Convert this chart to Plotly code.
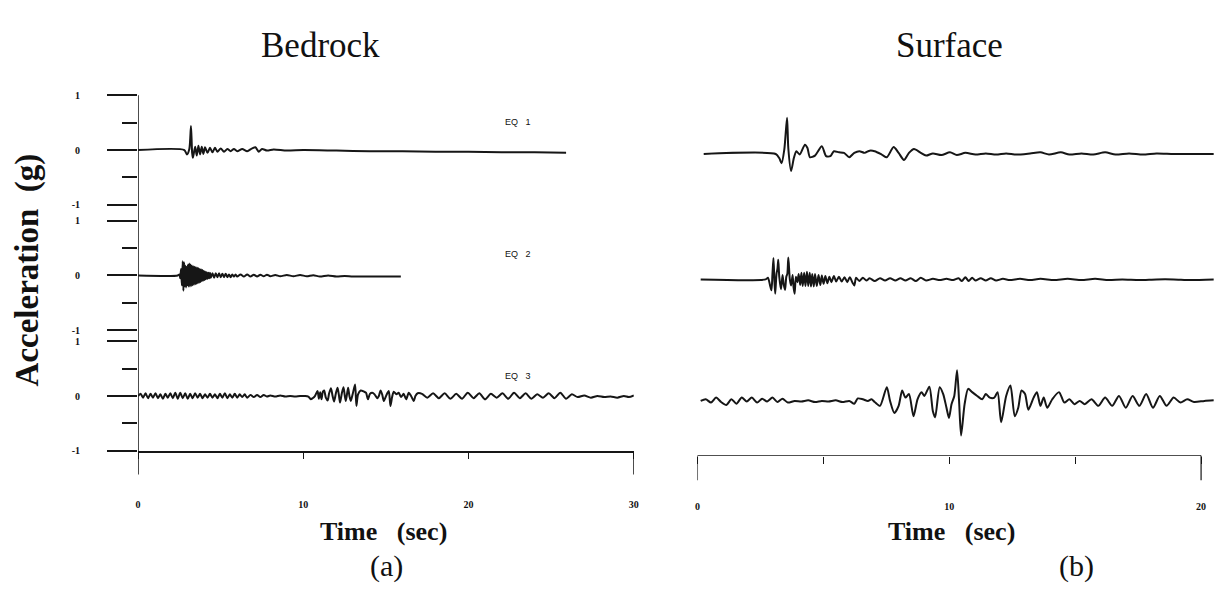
import plotly.graph_objects as go

W, H = 1219, 598

# ---------------- data (time in s, acceleration in g) ----------------
bed_eq1_t = [0, 2.8, 2.95, 3.1, 3.2, 3.27, 3.32, 3.45, 3.55, 3.65, 3.75, 3.85, 3.95, 4.05, 4.2, 4.35,
             4.5, 4.65, 4.8, 5.0, 5.2, 5.4, 5.6, 5.8, 6.0, 6.3, 6.6, 6.9, 7.1, 7.3, 7.5, 7.8, 8.2, 9,
             10, 12, 14, 16, 18, 20, 22, 24, 25.9]
bed_eq1_a = [0, 0, -0.08, 0.02, 0.44, -0.05, -0.14, 0.06, -0.10, 0.08, -0.08, 0.06, -0.07, 0.05, -0.05,
             0.04, -0.04, 0.04, -0.03, 0.03, -0.03, 0.02, -0.02, 0.02, -0.02, 0.02, -0.02, 0.03, 0.05,
             -0.03, 0.02, -0.01, 0.01, -0.01, 0.0, -0.01, -0.02, -0.02, -0.03, -0.03, -0.04, -0.04, -0.05]

bed_eq2_t = [0, 2.4, 2.5, 2.55, 2.6, 2.65, 2.7, 2.74, 2.78, 2.82, 2.86, 2.9, 2.94, 2.98, 3.02, 3.06,
             3.1, 3.14, 3.18, 3.22, 3.26, 3.3, 3.34, 3.38, 3.42, 3.46, 3.5, 3.54, 3.58, 3.62, 3.66,
             3.7, 3.74, 3.78, 3.82, 3.86, 3.9, 3.94, 3.98, 4.02, 4.06, 4.1, 4.15, 4.2, 4.25, 4.3,
             4.35, 4.4, 4.5, 4.6, 4.7, 4.8, 4.9, 5.0, 5.1, 5.2, 5.3, 5.4, 5.5, 5.6, 5.7, 5.8, 5.9,
             6.0, 6.2, 6.4, 6.6, 6.8, 7.0, 7.2, 7.4, 7.6, 7.8, 8.0, 8.3, 8.6, 9.0, 9.4, 9.8, 10.2,
             10.6, 11.0, 11.5, 12.0, 12.5, 13.0, 14.0, 15.0, 15.9]
bed_eq2_a = [0, 0, 0.02, -0.05, 0.12, -0.18, 0.26, -0.28, 0.24, -0.2, 0.18, -0.22, 0.16, -0.18, 0.2,
             -0.2, 0.22, -0.2, 0.2, -0.19, 0.18, -0.18, 0.17, -0.17, 0.16, -0.16, 0.15, -0.15, 0.14,
             -0.14, 0.13, -0.13, 0.12, -0.12, 0.11, -0.1, 0.1, -0.09, 0.08, -0.08, 0.07, -0.07,
             0.06, -0.06, 0.05, -0.05, 0.05, -0.04, 0.04, -0.04, 0.04, -0.03, 0.04, -0.03, 0.03,
             -0.03, 0.03, -0.03, 0.02, -0.03, 0.02, -0.02, 0.02, -0.02, 0.02, -0.02, 0.02, -0.02,
             0.015, -0.02, 0.015, -0.015, 0.015, -0.015, 0.01, -0.015, 0.01, -0.015, 0.01, -0.015,
             0.005, -0.02, 0.0, -0.02, -0.01, -0.02, -0.02, -0.02, -0.02]

bed_eq3_t = [0, 0.15, 0.3, 0.45, 0.6, 0.75, 0.9, 1.05, 1.2, 1.35, 1.5, 1.65, 1.8, 1.95, 2.1, 2.25,
             2.4, 2.55, 2.7, 2.85, 3.0, 3.15, 3.3, 3.45, 3.6, 3.75, 3.9, 4.05, 4.2, 4.35, 4.5, 4.65,
             4.8, 4.95, 5.1, 5.25, 5.4, 5.55, 5.7, 5.85, 6.0, 6.15, 6.3, 6.45, 6.6, 6.8, 7.0, 7.2,
             7.4, 7.6, 7.8, 8.0, 8.3, 8.6, 8.9, 9.2, 9.5, 9.8, 10.1, 10.3, 10.45,
             10.56, 10.70, 10.86, 10.94, 11.02, 11.10, 11.18, 11.26, 11.36, 11.47, 11.56, 11.67,
             11.77, 11.86, 11.97, 12.07, 12.15, 12.22, 12.33, 12.43, 12.51, 12.57, 12.65, 12.71,
             12.79, 12.87, 12.99, 13.13, 13.21, 13.31, 13.47, 13.67, 13.79, 13.91, 14.03, 14.17,
             14.31, 14.47, 14.57, 14.67, 14.77, 14.87, 15.03, 15.17, 15.27, 15.37, 15.47, 15.63,
             15.77, 15.91, 16.07, 16.22, 16.38, 16.52, 16.68, 16.78, 16.92, 17.18,
             17.5, 17.85, 18.2, 18.55, 18.9, 19.25, 19.6, 19.95, 20.3, 20.65, 21.0, 21.35, 21.7,
             22.05, 22.4, 22.75, 23.1, 23.45, 23.8, 24.15, 24.5, 24.85, 25.2, 25.55, 25.9, 26.25,
             26.6, 27.0, 27.4, 27.8, 28.2, 28.6, 29.0, 29.4, 29.7, 30.0]
bed_eq3_a = [0, 0.04, -0.03, 0.05, -0.04, 0.04, -0.03, 0.05, -0.04, 0.03, -0.05, 0.04, -0.03, 0.05,
             -0.04, 0.06, -0.05, 0.06, -0.04, 0.05, -0.05, 0.04, -0.04, 0.05, -0.03, 0.04, -0.04,
             0.03, -0.03, 0.04, -0.03, 0.03, -0.04, 0.04, -0.03, 0.05, -0.04, 0.03, -0.03, 0.04,
             -0.03, 0.03, -0.02, 0.03, -0.03, 0.02, -0.02, 0.02, -0.02, 0.02, -0.01, 0.01, -0.01,
             0.01, -0.01, 0.0, -0.01, 0.0, 0.0, -0.01, -0.06,
             -0.04, 0.0, 0.09, -0.05, 0.07, -0.06, 0.08, 0.1, -0.03, -0.08, 0.05, 0.14,
             0.0, -0.1, 0.05, 0.15, 0.02, -0.12, 0.05, 0.16, 0.0, -0.09, 0.05, 0.15,
             0.0, -0.09, 0.04, 0.21, -0.18, 0.03, 0.1, 0.08, 0.06, -0.06, 0.04, 0.06,
             0.03, -0.04, 0.0, 0.1, 0.03, -0.09, 0.02, 0.09, -0.18, -0.02, 0.08, 0.03,
             0.06, -0.02, 0.04, -0.06, 0.06, 0.0, -0.09, 0.0, 0.05, 0.04,
             -0.03, 0.05, -0.04, 0.05, -0.05, 0.04, -0.05, 0.06, -0.04, 0.05, -0.06, 0.04, -0.03,
             0.05, -0.05, 0.06, -0.04, 0.05, -0.05, 0.03, -0.03, 0.05, -0.04, 0.06, -0.05, 0.03,
             -0.02, 0.01, -0.03, 0.0, -0.02, -0.01, -0.03, 0.0, -0.02, 0.01]

sur_eq1_t = [0.25, 3.11, 3.25, 3.34, 3.45, 3.56, 3.61, 3.72, 3.83, 3.93, 4.06, 4.27, 4.37, 4.47, 4.67,
             4.94, 5.11, 5.28, 5.42, 5.62, 5.82, 6.03, 6.23, 6.43, 6.64, 6.84, 7.04, 7.32, 7.52,
             7.79, 7.99, 8.2, 8.4, 8.6, 8.87, 9.08, 9.35, 9.69, 10.03, 10.3, 10.64, 11.04, 11.45,
             11.86, 12.26, 12.67, 13.21, 13.62, 13.96, 14.43, 14.77, 15.25, 15.72, 16.19, 16.6,
             17.14, 17.69, 18.23, 18.91, 19.58, 20.5]
sur_eq1_a = [0, 0, -0.075, -0.17, 0.08, 0.66, 0.1, -0.31, -0.075, 0.05, -0.01, 0.17, 0.11, -0.06,
             -0.03, 0.14, -0.04, -0.04, 0.05, 0.03, 0.02, -0.06, 0.02, 0.05, 0.02, 0.06, 0.05,
             -0.01, -0.06, 0.125, 0.02, -0.11, 0.02, 0.09, 0.02, -0.03, 0.01, -0.02, 0.03, -0.02,
             0.02, -0.01, 0.01, -0.01, 0.01, -0.01, 0.01, 0.03, -0.01, 0.03, -0.01, 0.01, -0.01,
             0.03, -0.01, 0.01, -0.01, 0.01, 0.0, 0.0, 0.0]

sur_eq2_t = [0.13, 2.71, 2.80, 2.88, 2.94, 2.98, 3.02, 3.06, 3.09, 3.14, 3.18, 3.21, 3.25, 3.32,
             3.38, 3.43, 3.48, 3.53, 3.57, 3.61, 3.67, 3.72, 3.78, 3.82, 3.86, 3.91, 3.97, 4.02,
             4.08, 4.13, 4.18, 4.24, 4.29, 4.35, 4.40, 4.46, 4.51, 4.56, 4.62, 4.67, 4.74, 4.81,
             4.88, 4.94, 5.01, 5.08, 5.16, 5.24, 5.32, 5.42, 5.51, 5.62, 5.73, 5.84, 5.95, 6.05,
             6.16, 6.23, 6.30, 6.43, 6.57, 6.71, 6.84, 7.04, 7.25, 7.45, 7.65, 7.86, 8.06, 8.26,
             8.47, 8.67, 8.87, 9.08, 9.35, 9.62, 9.89, 10.16, 10.37, 10.5, 10.64, 10.77, 10.91,
             11.04, 11.25, 11.45, 11.65, 11.86, 12.13, 12.4, 12.81, 13.21, 13.62, 14.16, 14.7,
             15.25, 15.79, 16.33, 16.87, 17.55, 18.23, 18.91, 19.58, 20.5]
sur_eq2_a = [0, 0, 0.03, -0.1, -0.2, 0.1, 0.39, -0.05, -0.26, 0.1, 0.2, 0.36, 0.05, -0.18, 0.08,
             -0.1, -0.19, 0.05, 0.1, 0.4, 0.0, -0.11, 0.08, -0.15, -0.26, 0.05, -0.05, 0.1, -0.1,
             0.12, -0.12, 0.12, -0.12, 0.14, -0.12, 0.12, -0.13, 0.1, -0.13, 0.1, -0.12, 0.08,
             -0.1, 0.07, -0.08, 0.06, -0.07, 0.05, -0.05, 0.06, -0.04, 0.05, -0.04, 0.04, -0.05,
             0.04, -0.06, -0.11, 0.03, -0.03, 0.03, -0.02, 0.02, -0.03, 0.02, -0.02, 0.02, -0.02,
             0.02, -0.02, 0.02, -0.03, 0.03, -0.02, 0.01, -0.01, 0.01, -0.01, 0.02, -0.03, 0.04,
             -0.03, 0.03, -0.02, 0.02, -0.02, 0.02, -0.02, 0.01, -0.01, 0.01, -0.01, 0.01, -0.01,
             0.01, -0.01, 0.01, -0.01, 0.0, -0.01, 0.0, 0.0, -0.01, 0.0]

sur_eq3_t = [0.13, 0.33, 0.54, 0.74, 0.94, 1.15, 1.35, 1.55, 1.76, 1.96, 2.16, 2.37, 2.57, 2.77,
             2.98, 3.18, 3.38, 3.59, 3.86, 4.13, 4.40, 4.67, 4.94, 5.21, 5.49, 5.76, 6.03, 6.23,
             6.37, 6.57, 6.77, 6.91, 7.04, 7.25, 7.52, 7.65, 7.82, 7.99, 8.13, 8.26, 8.40, 8.58,
             8.74, 8.90, 9.01, 9.21, 9.35, 9.44, 9.62, 9.76, 9.89, 9.99, 10.09, 10.20, 10.31,
             10.39, 10.47, 10.61, 10.75, 10.91, 11.11, 11.31, 11.45, 11.61, 11.79, 11.92, 12.06,
             12.26, 12.43, 12.60, 12.74, 12.87, 13.01, 13.14, 13.35, 13.48, 13.62, 13.75, 13.89,
             14.09, 14.36, 14.57, 14.77, 14.97, 15.18, 15.38, 15.65, 15.92, 16.19, 16.47, 16.74,
             17.01, 17.28, 17.55, 17.82, 18.09, 18.36, 18.63, 18.91, 19.18, 19.45, 19.72, 20.13,
             20.5]
sur_eq3_a = [0, 0.03, -0.03, 0.06, -0.02, -0.075, 0.03, -0.05, 0.06, -0.01, 0.06, -0.03, 0.04,
             -0.01, 0.06, -0.02, 0.04, -0.03, 0.0, -0.01, 0.01, -0.02, 0.0, -0.01, 0.01, -0.02,
             0.0, -0.05, 0.045, 0.03, 0.0, 0.03, -0.02, -0.09, 0.25, 0.0, -0.22, -0.09, 0.19,
             0.06, 0.125, -0.28, 0.03, 0.16, 0.09, 0.26, -0.19, -0.3, 0.25, 0.125, -0.125, -0.31,
             -0.06, 0.09, 0.56, 0.0, -0.63, -0.06, 0.22, 0.16, 0.09, 0.03, 0.125, 0.06, 0.06,
             0.16, -0.39, 0.09, 0.28, -0.28, -0.125, 0.19, 0.125, -0.16, 0.06, 0.16, -0.09, 0.06,
             -0.125, 0.03, 0.16, -0.03, 0.03, -0.06, 0.0, -0.06, 0.03, -0.09, 0.06, -0.09, 0.09,
             -0.125, 0.09, -0.09, 0.125, -0.125, 0.09, -0.09, 0.06, -0.03, 0.03, -0.02, 0.0, 0.01]

eq_labels = ["EQ   1", "EQ   2", "EQ   3"]
y_tick_vals = [-1, 0, 1]
y_tick_text = ["-1", "0", "1"]
bed_x_ticks = [0, 10, 20, 30]
sur_x_ticks = [0, 10, 20]
sur_x_minor = [5, 15]

# ---------------- layout geometry (pixels -> paper) ----------------
def px(x):
    return x / W

def py(y):
    return 1 - y / H

LINE = "#161616"
fig = go.Figure()

series = [
    (bed_eq1_t, bed_eq1_a, "x", "y"),
    (bed_eq2_t, bed_eq2_a, "x", "y2"),
    (bed_eq3_t, bed_eq3_a, "x", "y3"),
    (sur_eq1_t, sur_eq1_a, "x2", "y4"),
    (sur_eq2_t, sur_eq2_a, "x2", "y5"),
    (sur_eq3_t, sur_eq3_a, "x2", "y6"),
]
for t, a, xa, ya in series:
    fig.add_trace(go.Scatter(x=t, y=a, xaxis=xa, yaxis=ya, mode="lines",
                             line=dict(color=LINE, width=2, shape="spline", smoothing=0.7),
                             hoverinfo="skip", showlegend=False))

tickfont = dict(family="Liberation Serif", size=10, color="#111")

left_dom = [px(136), px(635)]
right_x_max = (1219 - 699) / ((1206 - 699) / 20)
right_dom = [px(699), 1.0]

ydoms_left = [(91, 203), (219, 331), (342, 454)]
ydoms_right = [(95, 207), (223, 335), (347, 459)]

layout = dict(
    width=W, height=H, margin=dict(l=0, r=0, t=0, b=0),
    paper_bgcolor="white", plot_bgcolor="white",
    xaxis=dict(domain=left_dom, range=[0, 30], anchor="y3", showline=True, linecolor=LINE,
               linewidth=1.5, showgrid=False, zeroline=False, ticks="outside", ticklen=6,
               tickwidth=1.2, tickcolor=LINE, tickvals=bed_x_ticks,
               ticktext=[f"<b>{v}</b>" for v in bed_x_ticks], tickfont=tickfont,
               ticklabelstandoff=37),
    xaxis2=dict(domain=right_dom, range=[0, right_x_max], anchor="y6", showline=False,
                showgrid=False, zeroline=False, ticks="outside", ticklen=7, tickwidth=1.2,
                tickcolor=LINE, tickvals=sur_x_ticks,
                ticktext=[f"<b>{v}</b>" for v in sur_x_ticks], tickfont=tickfont,
                ticklabelstandoff=34,
                minor=dict(tickvals=sur_x_minor, ticks="outside", ticklen=7, tickwidth=1.2,
                           tickcolor=LINE)),
)
for i, (y0, y1) in enumerate(ydoms_left):
    name = "yaxis" if i == 0 else f"yaxis{i + 1}"
    layout[name] = dict(domain=[py(y1), py(y0)], range=[-1, 1], anchor="x", showline=False,
                        showgrid=False, zeroline=False, ticks="outside", ticklen=30,
                        tickwidth=1.5, tickcolor=LINE, tickvals=y_tick_vals,
                        ticktext=[f"<b>{s}</b>" for s in y_tick_text], tickfont=tickfont,
                        ticklabelstandoff=25,
                        minor=dict(tickvals=[-0.5, 0.5], ticks="outside", ticklen=15,
                                   tickwidth=1.5, tickcolor=LINE))
for i, (y0, y1) in enumerate(ydoms_right):
    layout[f"yaxis{i + 4}"] = dict(domain=[py(y1), py(y0)], range=[-1, 1], anchor="x2",
                                   visible=False)
fig.update_layout(**layout)

# axis decorations
shapes = [
    dict(type="line", xref="x", yref="paper", x0=0, x1=0, y0=py(478), y1=py(91),
         line=dict(color=LINE, width=1.5)),
    dict(type="line", xref="x", yref="paper", x0=30, x1=30, y0=py(478), y1=py(454),
         line=dict(color=LINE, width=1.5)),
    dict(type="line", xref="x2", yref="y6", x0=0, x1=20, y0=-1, y1=-1,
         line=dict(color=LINE, width=1.5)),
    dict(type="line", xref="x2", yref="paper", x0=0, x1=0, y0=py(484), y1=py(459),
         line=dict(color=LINE, width=1.2)),
    dict(type="line", xref="x2", yref="paper", x0=20, x1=20, y0=py(484), y1=py(459),
         line=dict(color=LINE, width=1.2)),
]
fig.update_layout(shapes=shapes)

serif = "Liberation Serif"
ann = [
    dict(text="Bedrock", x=px(320), y=py(40), font=dict(family=serif, size=35, color="#111")),
    dict(text="Surface", x=px(953), y=py(40), font=dict(family=serif, size=35, color="#111")),
    dict(text="<b>Acceleration  (g)</b>", x=px(25), y=py(269), textangle=-90,
         font=dict(family=serif, size=33, color="#111")),
    dict(text="<b>Time   (sec)</b>", x=px(383), y=py(536),
         font=dict(family=serif, size=26, color="#111")),
    dict(text="<b>Time   (sec)</b>", x=px(955), y=py(536),
         font=dict(family=serif, size=26, color="#111")),
    dict(text="(a)", x=px(386), y=py(571), font=dict(family=serif, size=30, color="#111")),
    dict(text="(b)", x=px(1081), y=py(571), font=dict(family=serif, size=30, color="#111")),
]
for lbl, yy in zip(eq_labels, [118, 253, 378]):
    ann.append(dict(text=lbl, x=px(518), y=py(yy),
                    font=dict(family="Liberation Sans", size=9, color="#111")))
for a in ann:
    a.update(xref="paper", yref="paper", showarrow=False, xanchor="center", yanchor="middle")
fig.update_layout(annotations=ann)

fig.write_html("out.html")
